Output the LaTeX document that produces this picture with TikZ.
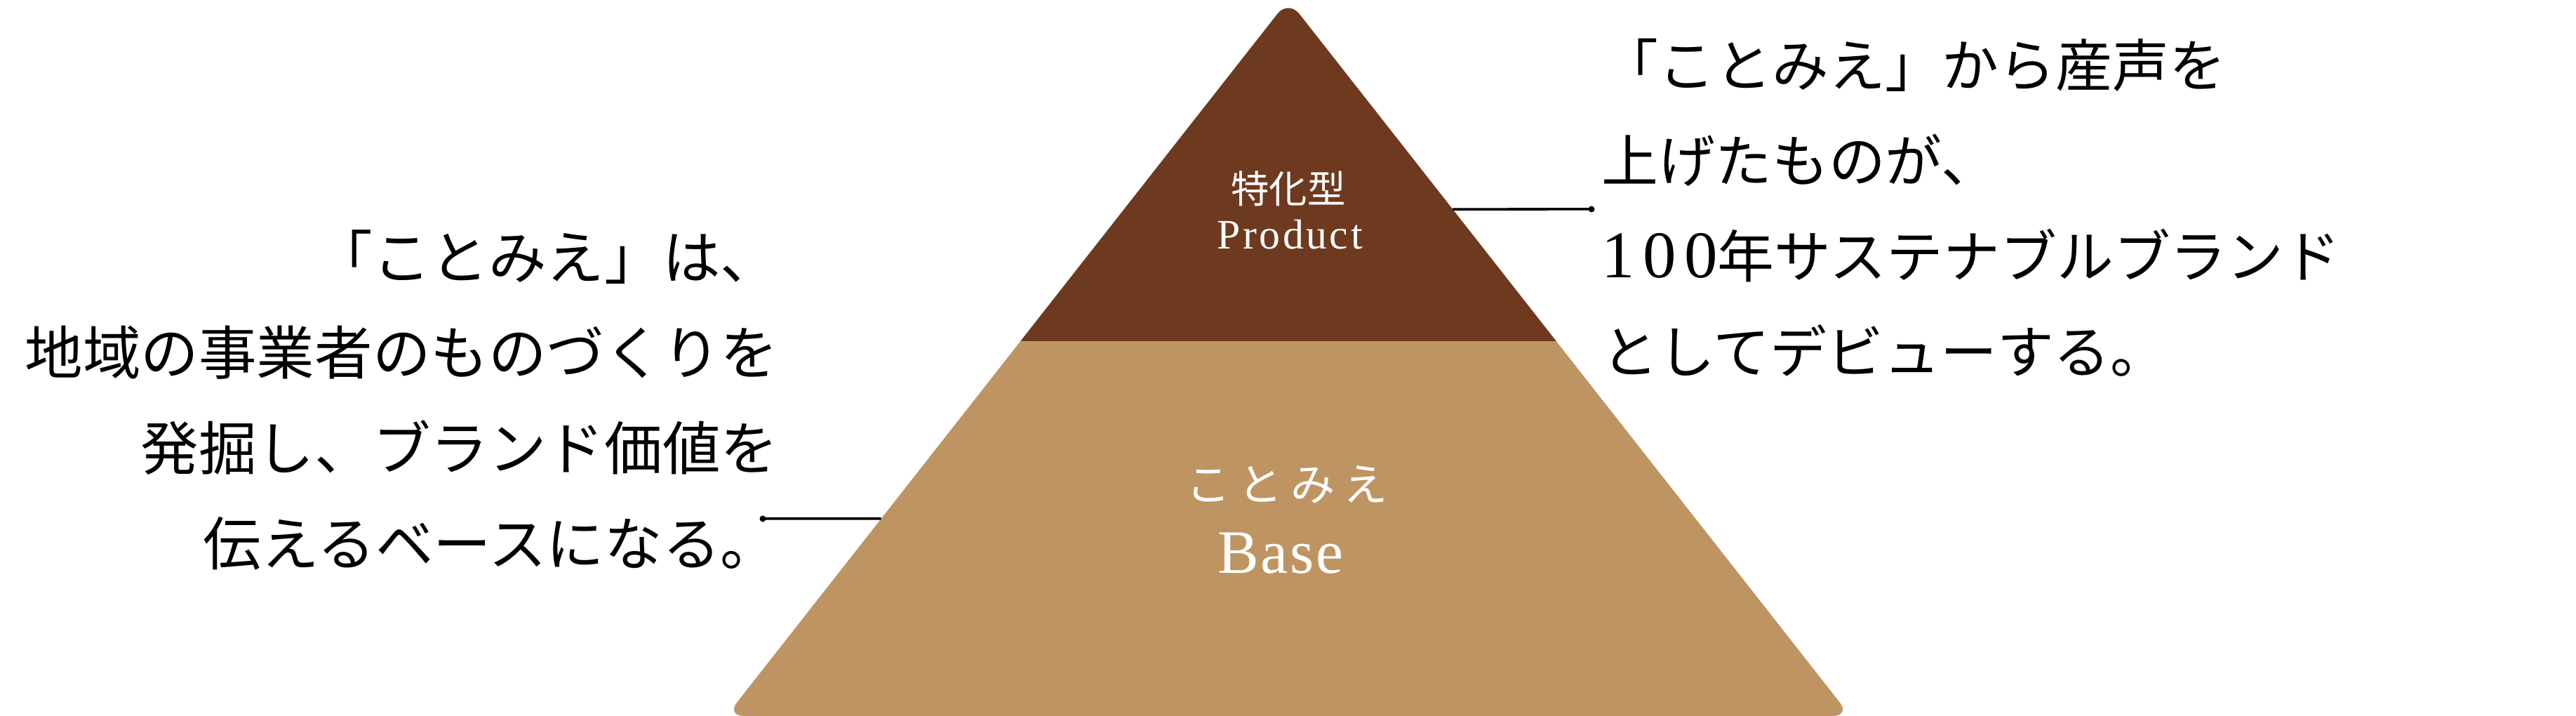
\documentclass[tikz,border=0pt]{standalone}
\usepackage{fontspec}
\newfontfamily\jp{Noto Sans CJK JP}
\newfontfamily\lat{Liberation Serif}
\usetikzlibrary{arrows.meta,calc}
\definecolor{peakbrown}{RGB}{109,58,32}
\definecolor{basetan}{RGB}{190,149,98}
\tikzset{
  % 説明文
  copy/.style={font=\jp\fontsize{23.5}{38.7}\selectfont, inner sep=0pt},
  % ピラミッド内のラベル
  inlabel/.style={text=white, inner sep=0pt, align=center},
  % 引き出し線
  leader/.style={line width=1pt},
}
\begin{document}
\begin{tikzpicture}
  \useasboundingbox (0,0) rectangle (36.71,10.20);
  \coordinate (apex) at (18.36,10.20);
  \coordinate (bl) at (10.35,0);
  \coordinate (br) at (26.37,0);

  % Base
  \fill[basetan, rounded corners=0.25cm] (bl) -- (apex) -- (br) -- cycle;
  % Product
  \begin{scope}
    \clip (0,5.34) rectangle (36.71,10.20);
    \fill[peakbrown, rounded corners=0.25cm] (bl) -- (apex) -- (br) -- cycle;
  \end{scope}

  \node[inlabel, font=\jp\fontsize{15.5}{18}\selectfont] (tokka) at (18.36,7.51) {特化型};
  \node[inlabel, font=\lat\fontsize{17}{18}\selectfont\addfontfeature{LetterSpace=6}, anchor=base] (product) at (18.38,6.65) {Product};
  \node[inlabel, font=\jp\fontsize{18}{20}\selectfont] (kotomie) at (18.34,3.30) {こ\kern3.3ptと\kern3.3ptみ\kern3.3ptえ};
  \node[inlabel, font=\lat\fontsize{25}{28}\selectfont\addfontfeature{LetterSpace=3}, anchor=base] (base) at (18.25,2.03) {Base};

  % 説明文
  \node[copy, align=right, anchor=east] (lefttext) at (11.10,4.50)
    {「ことみえ」は、\\地域の事業者のものづくりを\\発掘し、ブランド価値を\\伝えるベースになる。};
  \node[copy, font=\jp\fontsize{23}{38.7}\selectfont, align=left, anchor=west] (righttext) at (22.82,7.24)
    {「ことみえ」から産声を\\上げたものが、\\{\lat\fontsize{27}{38.7}\selectfont\addfontfeature{LetterSpace=12}100}年サステナブルブランド\\としてデビューする。};

  % 引き出し線
  \coordinate (ledge) at ($(apex)!0.7245!(bl)$);
  \coordinate (redge) at ($(apex)!0.2922!(br)$);
  \coordinate (ldot) at (10.87,2.81);
  \coordinate (rdot) at (22.68,7.22);
  \draw[leader] (ldot) -- (ledge);
  \draw[leader] (rdot) -- (redge);
  \fill (ldot) circle (0.045);
  \fill (rdot) circle (0.045);
\end{tikzpicture}
\end{document}
